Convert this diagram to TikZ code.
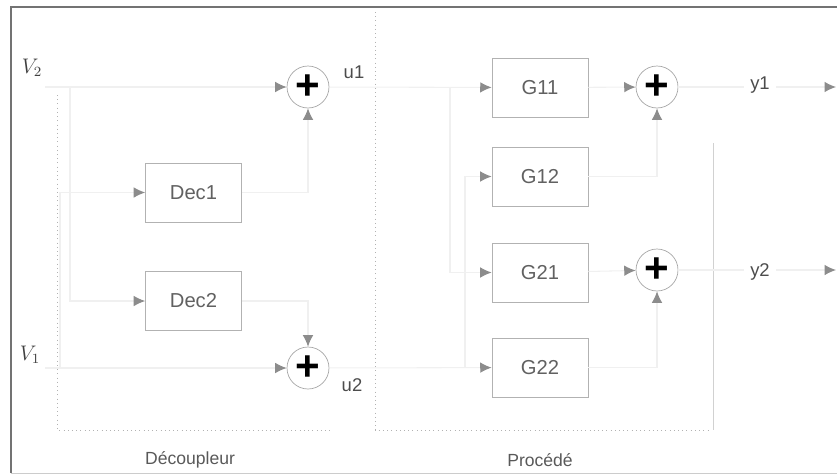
\documentclass[tikz,border=0pt]{standalone}
\usepackage{fontspec}
\setmainfont{Liberation Sans}
\usetikzlibrary{arrows.meta}

\begin{document}
\begin{tikzpicture}[x=0.02cm,y=-0.02cm,
    blk/.style={draw=black!30,minimum width=1.92cm,minimum height=1.18cm,
      text=black!62,font=\fontsize{11.5}{12}\selectfont},
    sum/.style={circle,draw=black!35,minimum size=0.84cm,inner sep=0pt,
      font=\fontsize{24}{24}\selectfont\bfseries},
    port/.style={text=black!70,font=\fontsize{10.5}{11}\selectfont},
    wire/.style={draw=black!6,line width=0.6pt,
      -{Latex[length=6.5pt,width=6pt,color=black!45]}}]
    \useasboundingbox (0,0) rectangle (837,474);

    \draw[black!55,line width=1.2pt] (837,7) -- (11,7) -- (11,473);
    \draw[black!20] (11,473) -- (837,473);
    \draw[black!30,dotted] (57,95) -- (57,430) -- (333,430);
    \draw[black!30,dotted] (375,12) -- (375,430) -- (710,430);
    \draw[black!18] (713,143) -- (713,430);
    \node[text=black!65] (dec) at (190,460) {Découpleur};
    \node[text=black!65] (proc) at (540,460) {Procédé};

    \node[text=black!75,font=\large] (v2) at (32,68) {$V_2$};
    \node[text=black!75,font=\large] (v1) at (30,355) {$V_1$};
    \coordinate (in2) at (45,87);
    \coordinate (in1) at (45,368);
    \coordinate (b2) at (70,87);
    \coordinate (b1) at (60,368);

    \node[blk] (dec1) at (193.5,192.5) {Dec1};
    \node[blk] (dec2) at (193.5,301) {Dec2};
    \node[sum] (s1) at (308,87) {+};
    \node[sum] (s2) at (308,368) {+};
    \node[port] (u1) at (354,72) {u1};
    \node[port] (u2) at (352,385) {u2};

    \draw[wire] (in2) -- (s1);
    \draw[wire] (in1) -- (s2);
    \draw[wire] (b2) |- (dec2);
    \draw[wire] (b1) |- (dec1);
    \draw[wire] (dec1) -| (s1);
    \draw[wire] (dec2) -| (s2);

    \node[blk] (g11) at (540,87.5) {G11};
    \node[blk] (g12) at (540,176.5) {G12};
    \node[blk] (g21) at (540,272.5) {G21};
    \node[blk] (g22) at (540,367.5) {G22};
    \node[sum] (s3) at (657,87) {+};
    \node[sum] (s4) at (657,270) {+};
    \coordinate (c1) at (450,87);
    \coordinate (c2) at (465,368);
    \coordinate (o1) at (836,87);
    \coordinate (o2) at (836,270);

    \draw[wire] (s1) -- (g11);
    \draw[wire] (c1) |- (g21);
    \draw[wire] (s2) -- (g22);
    \draw[wire] (c2) |- (g12);
    \draw[wire] (g11) -- (s3);
    \draw[wire] (g12) -| (s3);
    \draw[wire] (g21) -- (s4);
    \draw[wire] (g22) -| (s4);
    \draw[wire] (s3) -- (o1);
    \draw[wire] (s4) -- (o2);
    \node[port,fill=white] (y1) at (760,85) {y1};
    \node[port,fill=white] (y2) at (760,272) {y2};
\end{tikzpicture}
\end{document}
